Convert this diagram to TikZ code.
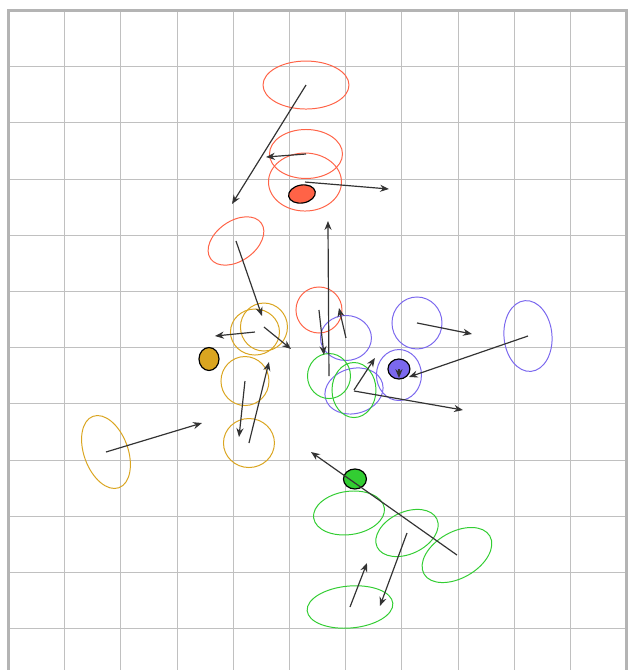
\documentclass[tikz,border=0pt]{standalone}
\usepackage{xcolor}
\usepackage{tikz}
\usetikzlibrary{arrows.meta,shapes.geometric}
\definecolor{tomato}{RGB}{255,99,71}
\definecolor{slateblue}{RGB}{123,104,238}
\definecolor{limegreen}{RGB}{50,205,50}
\definecolor{goldenrod}{RGB}{218,165,32}
\definecolor{arrowgray}{RGB}{51,51,51}
\definecolor{gridgray}{RGB}{192,192,192}
\definecolor{framegray}{RGB}{180,180,180}
\begin{document}
\begin{tikzpicture}[>={Stealth[length=4.5pt,width=3.6pt]},
  ring/.style={draw=#1, ellipse, inner sep=0pt, line width=0.5pt},
  blob/.style={draw=black, fill=#1, ellipse, inner sep=0pt, line width=0.6pt},
  vec/.style={->, draw=arrowgray, line width=0.6pt}]
  % page = 629x670 px, one cell = 56.2 px, origin at top-left corner of the frame
  \clip (-0.151,0.187) rectangle (11.041,-11.735);
  \draw[gridgray, line width=0.5pt] (0,-12) grid (11,0);
  \draw[framegray, line width=1.4pt] (0,-12) rectangle (11,0);
  % ============= red group =============
  \node[ring=tomato, minimum width=1.53cm,  minimum height=0.854cm] (r1) at (5.294,-1.326) {};
  \node[ring=tomato, minimum width=1.299cm, minimum height=0.872cm] (r2) at (5.294,-2.553) {};
  \node[ring=tomato, minimum width=1.299cm, minimum height=1.032cm] (r3) at (5.276,-3.052) {};
  \node[ring=tomato, minimum width=1.103cm, minimum height=0.712cm, rotate=35] (r4) at (4.048,-4.101) {};
  \node[ring=tomato, minimum width=0.819cm, minimum height=0.819cm] (r5) at (5.525,-5.329) {};
  \node[blob=tomato, minimum width=0.48cm, minimum height=0.32cm, rotate=10] (rdot) at (5.222,-3.265) {};
  % ============= blue group =============
  \node[ring=slateblue, minimum width=0.907cm, minimum height=0.801cm] (b1) at (6.005,-5.827) {};
  \node[ring=slateblue, minimum width=0.89cm,  minimum height=0.925cm] (b2) at (7.269,-5.56) {};
  \node[ring=slateblue, minimum width=0.801cm, minimum height=0.907cm] (b3) at (6.948,-6.486) {};
  \node[ring=slateblue, minimum width=0.854cm, minimum height=1.263cm, rotate=5] (b4) at (9.244,-5.792) {};
  \node[ring=slateblue, minimum width=1.05cm,  minimum height=0.801cm, rotate=15] (b5) at (6.148,-6.77) {};
  \node[blob=slateblue, minimum width=0.391cm, minimum height=0.356cm] (bdot) at (6.948,-6.379) {};
  % ============= green group =============
  \node[ring=limegreen, minimum width=0.765cm, minimum height=0.801cm] (g1) at (5.703,-6.504) {};
  \node[ring=limegreen, minimum width=0.783cm, minimum height=0.979cm] (g2) at (6.148,-6.753) {};
  \node[ring=limegreen, minimum width=1.27cm,  minimum height=0.77cm,  rotate=8]  (g3) at (6.059,-8.941) {};
  \node[ring=limegreen, minimum width=1.174cm, minimum height=0.747cm, rotate=25] (g4) at (7.091,-9.297) {};
  \node[ring=limegreen, minimum width=1.352cm, minimum height=0.819cm, rotate=30] (g5) at (7.98,-9.689) {};
  \node[ring=limegreen, minimum width=1.53cm,  minimum height=0.747cm, rotate=5]  (g6) at (6.077,-10.614) {};
  \node[blob=limegreen, minimum width=0.409cm, minimum height=0.356cm] (gdot) at (6.165,-8.336) {};
  % ============= gold group =============
  \node[ring=goldenrod, minimum width=0.783cm, minimum height=1.352cm, rotate=20] (o1) at (1.735,-7.856) {};
  \node[ring=goldenrod, minimum width=0.872cm, minimum height=0.819cm] (o2) at (4.386,-5.721) {};
  \node[ring=goldenrod, minimum width=0.836cm, minimum height=0.854cm] (o3) at (4.546,-5.632) {};
  \node[ring=goldenrod, minimum width=0.854cm, minimum height=0.872cm] (o4) at (4.208,-6.593) {};
  \node[ring=goldenrod, minimum width=0.907cm, minimum height=0.872cm] (o5) at (4.279,-7.696) {};
  \node[blob=goldenrod, minimum width=0.356cm, minimum height=0.409cm] (odot) at (3.568,-6.201) {};
  % --- arrow heads (free ends) ---
  \coordinate (r1t) at (3.977,-3.443);
  \coordinate (r2t) at (4.582,-2.607);
  \coordinate (r3t) at (6.77,-3.176);
  \coordinate (r4t) at (4.511,-5.436);
  \coordinate (r5t) at (5.614,-6.13);
  \coordinate (b1t) at (5.881,-5.294);
  \coordinate (b2t) at (8.247,-5.756);
  \coordinate (bdt) at (6.948,-6.539);
  \coordinate (b4t) at (7.126,-6.521);
  \coordinate (b5t) at (8.087,-7.109);
  \coordinate (g2t) at (6.52,-6.183);
  \coordinate (g1t) at (5.685,-3.746);
  \coordinate (g4t) at (6.61,-10.596);
  \coordinate (g5t) at (5.383,-7.856);
  \coordinate (g6t) at (6.379,-9.831);
  \coordinate (o1t) at (3.443,-7.34);
  \coordinate (o2t) at (3.674,-5.792);
  \coordinate (o3t) at (5.027,-6.023);
  \coordinate (o4t) at (4.102,-7.589);
  \coordinate (o5t) at (4.635,-6.254);
  % --- arrows ---
  \draw[vec] (r1.center) -- (r1t);
  \draw[vec] (r2.center) -- (r2t);
  \draw[vec] (r3.center) -- (r3t);
  \draw[vec] (r4.center) -- (r4t);
  \draw[vec] (r5.center) -- (r5t);
  \draw[vec] (b1.center) -- (b1t);
  \draw[vec] (b2.center) -- (b2t);
  \draw[vec] (bdot.center) -- (bdt);
  \draw[vec] (b4.center) -- (b4t);
  \draw[vec] (b5.center) -- (b5t);
  \draw[vec] (g2.center) -- (g2t);
  \draw[vec] (g1.center) -- (g1t);
  \draw[vec] (g4.center) -- (g4t);
  \draw[vec] (g5.center) -- (g5t);
  \draw[vec] (g6.center) -- (g6t);
  \draw[vec] (o1.center) -- (o1t);
  \draw[vec] (o2.center) -- (o2t);
  \draw[vec] (o3.center) -- (o3t);
  \draw[vec] (o4.center) -- (o4t);
  \draw[vec] (o5.center) -- (o5t);
\end{tikzpicture}
\end{document}
